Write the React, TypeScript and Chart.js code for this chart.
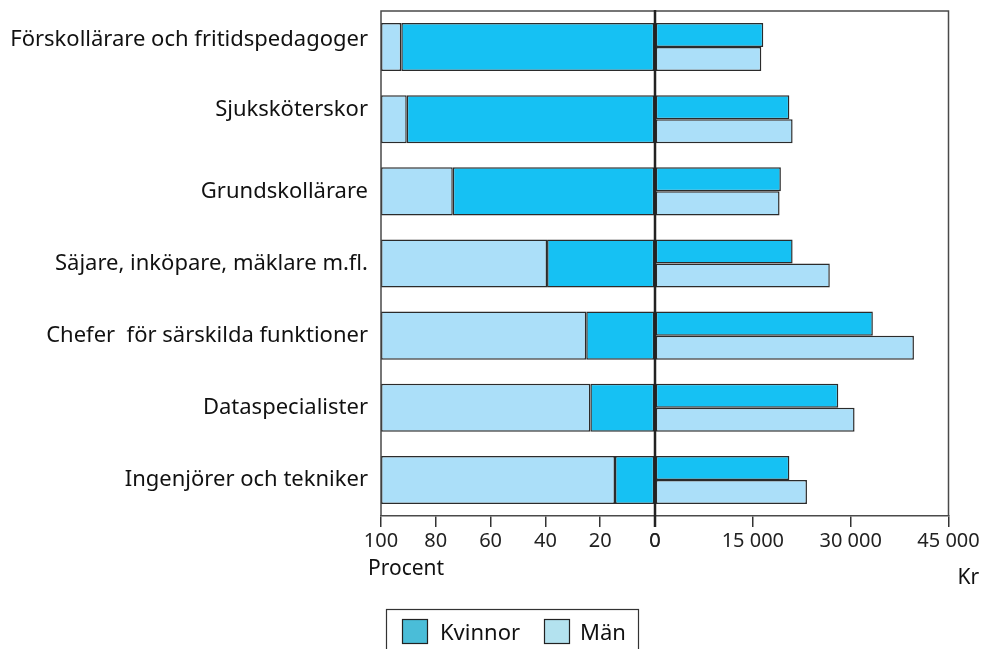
import React, { useEffect, useRef } from 'react';
import { Chart, registerables } from 'chart.js';

Chart.register(...registerables);

// ---------- data ----------
const categories = [
  'Förskollärare och fritidspedagoger',
  'Sjuksköterskor',
  'Grundskollärare',
  'Säjare, inköpare, mäklare m.fl.',
  'Chefer  för särskilda funktioner',
  'Dataspecialister',
  'Ingenjörer och tekniker',
];
const seriesNames = ['Kvinnor', 'Män'];
// share of employees, percent
const kvinnorPct = [92.6, 90.6, 73.8, 39.4, 25.1, 23.6, 14.6];
const manPct = [7.4, 9.4, 26.2, 60.6, 74.9, 76.4, 85.4];
// monthly salary, kr
const kvinnorLon = [16600, 20600, 19300, 21100, 33400, 28100, 20600];
const manLon = [16300, 21100, 19100, 26800, 39700, 30600, 23300];
// tick labels
const pctTicks = [100, 80, 60, 40, 20, 0];
const lonTicks = [0, 15000, 30000, 45000];
const pctUnit = 'Procent';
const lonUnit = 'Kr';

// ---------- style ----------
const FONT = "'Noto Sans', 'Open Sans', sans-serif";
const DARK = '#16c1f3';
const LIGHT = '#abdff9';
const EDGE = '#2b2b2b';
const LEG_DARK = '#4abdd8';
const LEG_LIGHT = '#b3e2ef';
const FRAME = '#4a4a4a';
const W = 985;
const H = 649;
const TOP = 11;
const AXIS_H = 133;
const LEFT_EDGE = 381;
const ZERO_X = 655;
const RIGHT_PAD = 36.5;
const labelShift = [7, 9, 0, 0, 0, 0, 0];

const fmt = (v: number) => String(v).replace(/\B(?=(\d{3})+(?!\d))/g, ' ');

const barDefaults = {
  borderColor: EDGE,
  borderWidth: 1.5,
  borderSkipped: false as const,
};

const xTickStyle = {
  font: { family: FONT, size: 20 },
  color: '#222',
  padding: 2,
  maxRotation: 0,
  autoSkip: false,
};

export default function App() {
  const leftRef = useRef<HTMLCanvasElement>(null);
  const rightRef = useRef<HTMLCanvasElement>(null);

  useEffect(() => {
    const leftFrame = {
      id: 'leftFrame',
      afterDraw(chart: any) {
        const { ctx, chartArea } = chart;
        ctx.save();
        ctx.strokeStyle = FRAME;
        ctx.lineWidth = 1.5;
        ctx.beginPath();
        ctx.moveTo(chartArea.left, chartArea.bottom);
        ctx.lineTo(chartArea.left, chartArea.top);
        ctx.lineTo(chartArea.right, chartArea.top);
        ctx.stroke();
        ctx.fillStyle = '#111';
        ctx.font = `21px ${FONT}`;
        ctx.textAlign = 'left';
        ctx.textBaseline = 'alphabetic';
        ctx.fillText(pctUnit, chartArea.left - 13, 575);
        ctx.restore();
      },
    };

    const left = new Chart(leftRef.current!, {
      type: 'bar',
      data: {
        labels: categories,
        datasets: [
          { label: seriesNames[0], data: kvinnorPct, backgroundColor: DARK, ...barDefaults },
          { label: seriesNames[1], data: manPct, backgroundColor: LIGHT, ...barDefaults },
        ],
      },
      options: {
        indexAxis: 'y',
        responsive: false,
        animation: false,
        layout: { padding: { top: TOP, right: W - ZERO_X, bottom: 0, left: 0 } },
        datasets: { bar: { barPercentage: 0.666, categoryPercentage: 1 } },
        plugins: { legend: { display: false }, tooltip: { enabled: false } },
        scales: {
          x: {
            type: 'linear',
            stacked: true,
            reverse: true,
            min: 0,
            max: 100,
            afterBuildTicks: (s: any) => {
              s.ticks = pctTicks.map((v) => ({ value: v }));
            },
            afterFit: (s: any) => {
              s.height = AXIS_H;
            },
            grid: { drawOnChartArea: false, drawTicks: true, tickLength: 11, color: '#333', lineWidth: 1.5 },
            border: { display: true, color: FRAME, width: 1.5 },
            ticks: { ...xTickStyle, callback: (v: any) => fmt(Number(v)) },
          },
          y: {
            type: 'category',
            stacked: true,
            afterFit: (s: any) => {
              s.width = LEFT_EDGE;
              s.paddingTop = 0;
              s.paddingBottom = 0;
            },
            grid: { display: false, drawTicks: false },
            border: { display: false },
            ticks: {
              padding: 13,
              color: '#111',
              autoSkip: false,
              font: (c: any) => ({
                family: FONT,
                size: 22,
                lineHeight: labelShift[c.index] ? `${labelShift[c.index] * 2}px` : 1.2,
              }),
              callback: function (this: any, _v: any, i: number) {
                const t = categories[i];
                return labelShift[i] ? [t, ''] : t;
              },
            },
          },
        },
      },
      plugins: [leftFrame],
    } as any);

    const rightFrame = {
      id: 'rightFrame',
      afterDraw(chart: any) {
        const { ctx, chartArea } = chart;
        const x0 = chart.scales.x.getPixelForValue(0);
        ctx.save();
        ctx.strokeStyle = FRAME;
        ctx.lineWidth = 1.5;
        ctx.beginPath();
        ctx.moveTo(chartArea.left, chartArea.top);
        ctx.lineTo(chartArea.right, chartArea.top);
        ctx.lineTo(chartArea.right, chartArea.bottom);
        ctx.stroke();
        // zero line
        ctx.strokeStyle = '#222';
        ctx.lineWidth = 2.5;
        ctx.beginPath();
        ctx.moveTo(x0, chartArea.top - 1);
        ctx.lineTo(x0, chartArea.bottom + 11);
        ctx.stroke();
        // unit
        ctx.fillStyle = '#111';
        ctx.font = `21px ${FONT}`;
        ctx.textAlign = 'left';
        ctx.textBaseline = 'alphabetic';
        ctx.fillText(lonUnit, chartArea.right + 9, 584);
        // legend
        ctx.strokeStyle = '#333';
        ctx.lineWidth = 1.2;
        ctx.strokeRect(386.5, 609.5, 252, 60);
        const legColors = [LEG_DARK, LEG_LIGHT];
        const sw = [402, 544];
        const tx = [440, 580];
        ctx.font = `22px ${FONT}`;
        seriesNames.forEach((name, i) => {
          ctx.fillStyle = legColors[i];
          ctx.fillRect(sw[i], 619, 25, 24);
          ctx.strokeStyle = '#222';
          ctx.lineWidth = 1.2;
          ctx.strokeRect(sw[i] + 0.5, 619.5, 25, 24);
          ctx.fillStyle = '#111';
          ctx.fillText(name, tx[i], 640);
        });
        ctx.restore();
      },
    };

    const right = new Chart(rightRef.current!, {
      type: 'bar',
      data: {
        labels: categories,
        datasets: [
          { label: seriesNames[0], data: kvinnorLon, backgroundColor: DARK, ...barDefaults },
          { label: seriesNames[1], data: manLon, backgroundColor: LIGHT, ...barDefaults },
        ],
      },
      options: {
        indexAxis: 'y',
        responsive: false,
        animation: false,
        layout: { padding: { top: TOP, right: RIGHT_PAD, bottom: 0, left: ZERO_X } },
        datasets: { bar: { barPercentage: 1, categoryPercentage: 0.666 } },
        plugins: { legend: { display: false }, tooltip: { enabled: false } },
        scales: {
          x: {
            type: 'linear',
            min: 0,
            max: 45000,
            afterBuildTicks: (s: any) => {
              s.ticks = lonTicks.map((v) => ({ value: v }));
            },
            afterFit: (s: any) => {
              s.height = AXIS_H;
            },
            grid: { drawOnChartArea: false, drawTicks: true, tickLength: 11, color: '#333', lineWidth: 1.5 },
            border: { display: true, color: FRAME, width: 1.5 },
            ticks: { ...xTickStyle, callback: (v: any) => fmt(Number(v)) },
          },
          y: { type: 'category', display: false },
        },
      },
      plugins: [rightFrame],
    } as any);

    return () => {
      left.destroy();
      right.destroy();
    };
  }, []);

  const cv: React.CSSProperties = { position: 'absolute', left: 0, top: 0, width: W, height: H };
  return (
    <div style={{ position: 'absolute', left: 0, top: 0, width: W, height: H, background: '#fff', overflow: 'hidden' }}>
      <canvas ref={leftRef} width={W} height={H} style={cv} />
      <canvas ref={rightRef} width={W} height={H} style={cv} />
    </div>
  );
}
